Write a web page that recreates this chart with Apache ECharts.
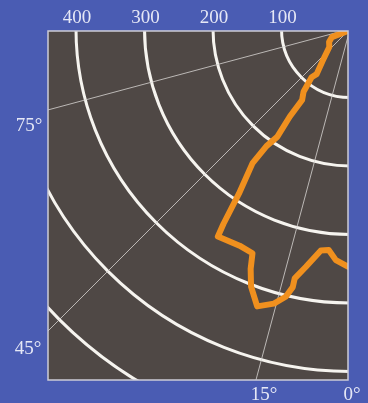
<!DOCTYPE html>
<html>
<head>
<meta charset="utf-8">
<style>
  html, body { margin: 0; padding: 0; background: #4a5cb2; }
  #chart { width: 368px; height: 403px; }
</style>
<script src="https://cdn.jsdelivr.net/npm/echarts@6/dist/echarts.min.js"></script>
</head>
<body>
<div id="chart"></div>
<script>
// ---- data ----
const radiusTicks = [100, 200, 300, 400];
const angleTickValues = [0, 15, 45, 75];
const angleTickLabels = ['0°', '15°', '45°', '75°'];
// orange profile: radius values and angle values (degrees from the 0° ray)
const profileRadius = [6, 29, 36, 40, 60, 82, 90, 114, 125, 155, 190, 210, 242, 290, 339, 359, 355, 357, 379, 403, 427, 416, 402, 386, 373, 353, 326, 324, 338, 347];
const profileAngle  = [55, 66, 58, 49, 41, 36.5, 38.5, 36.5, 34, 34.5, 34, 35.5, 36, 34, 33, 32.5, 27, 23.5, 22.5, 21, 18.5, 15.5, 13.5, 12.5, 12.5, 10.5, 7.5, 5.5, 3.5, 0.5];

// ---- layout / style ----
const BLUE = '#4a5cb3';
const PLOT = '#4f4845';
const TEXT = '#e6e8f6';
const FONT = '"Liberation Serif", "DejaVu Serif", serif';
const plotRect = { x: 48, y: 31, w: 300, h: 349 };
const center = [350, 29];
const radiusMax = 700;
const radiusPx = 479.5;
const angleLabelPos = { '0°': [352, 395], '15°': [264, 395], '45°': [28, 349], '75°': [29, 126] };

const chart = echarts.init(document.getElementById('chart'), null, { renderer: 'canvas' });

function baseGraphics() {
  const W = 368, H = 403;
  const r = plotRect;
  return [
    { type: 'rect', z: 100, silent: true, shape: { x: 0, y: 0, width: W, height: r.y }, style: { fill: BLUE } },
    { type: 'rect', z: 100, silent: true, shape: { x: 0, y: r.y + r.h, width: W, height: H - r.y - r.h }, style: { fill: BLUE } },
    { type: 'rect', z: 100, silent: true, shape: { x: 0, y: 0, width: r.x, height: H }, style: { fill: BLUE } },
    { type: 'rect', z: 100, silent: true, shape: { x: r.x + r.w, y: 0, width: W - r.x - r.w, height: H }, style: { fill: BLUE } },
    { type: 'rect', z: 101, silent: true, shape: { x: r.x, y: r.y, width: r.w, height: r.h }, style: { fill: null, stroke: '#cdcbd6', lineWidth: 1.5 } }
  ];
}

const profileData = profileRadius.map((r, i) => [r, profileAngle[i]]);

chart.setOption({
  animation: false,
  backgroundColor: PLOT,
  polar: { center: center, radius: radiusPx },
  angleAxis: {
    type: 'value', min: -270, max: 90, interval: 15,
    startAngle: 180, clockwise: true,
    axisLine: { show: false }, axisTick: { show: false }, axisLabel: { show: false },
    splitLine: { show: true, lineStyle: { color: ['rgba(0,0,0,0)', 'rgba(215,212,210,0.8)'], width: 1 } }
  },
  radiusAxis: {
    type: 'value', min: 0, max: radiusMax, interval: 100,
    axisLine: { show: false }, axisTick: { show: false }, axisLabel: { show: false },
    splitLine: { show: true, lineStyle: { color: '#f6f4ef', width: 3 } }
  },
  series: [{
    type: 'line', coordinateSystem: 'polar', data: profileData,
    symbol: 'none', smooth: false, z: 5,
    lineStyle: { color: '#f0901e', width: 6, cap: 'round', join: 'round' }
  }],
  graphic: baseGraphics()
});

function toPx(r, a) {
  let p = null;
  try { p = chart.convertToPixel({ polarIndex: 0 }, [r, a]); } catch (e) { p = null; }
  if (!p || isNaN(p[0])) {
    const rad = a * Math.PI / 180, d = r * radiusPx / radiusMax;
    p = [center[0] - d * Math.sin(rad), center[1] + d * Math.cos(rad)];
  }
  return p;
}

const texts = [];
radiusTicks.forEach(v => {
  const p = toPx(v, 90);
  texts.push({ type: 'text', z: 102, silent: true, x: p[0] + 1, y: 18,
    style: { text: String(v), fill: TEXT, font: '19px ' + FONT, textAlign: 'center', textVerticalAlign: 'middle' } });
});
angleTickLabels.forEach((lab, i) => {
  const pos = angleLabelPos[lab];
  texts.push({ type: 'text', z: 102, silent: true, x: pos[0], y: pos[1],
    style: { text: lab, fill: TEXT, font: '19px ' + FONT, textAlign: 'center', textVerticalAlign: 'middle' } });
});

chart.setOption({ graphic: baseGraphics().concat(texts) });
</script>
</body>
</html>
